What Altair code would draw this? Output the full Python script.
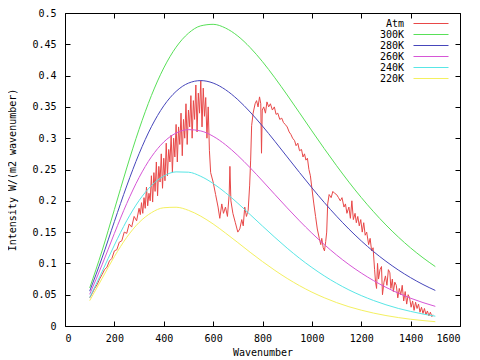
import altair as alt
import pandas as pd

FONT = "DejaVu Sans Mono"

series_names = ["Atm", "300K", "280K", "260K", "240K", "220K"]
series_colors = ["#e84848", "#58e058", "#4646bb", "#d656d6", "#58e6e6", "#f4f060"]

# Blackbody curves, every 50 wavenumbers from 100 to 1500
nu_planck = list(range(100, 1501, 50))
t300 = [0.0608, 0.1199, 0.1860, 0.2524, 0.3142, 0.3681, 0.4122, 0.4454, 0.4677, 0.4795,
        0.4819, 0.4760, 0.4632, 0.4448, 0.4222, 0.3965, 0.3690, 0.3405, 0.3117, 0.2834,
        0.2561, 0.2299, 0.2053, 0.1825, 0.1614, 0.1422, 0.1247, 0.1090, 0.0949]
t280 = [0.0557, 0.1087, 0.1668, 0.2237, 0.2751, 0.3183, 0.3517, 0.3748, 0.3880, 0.3920,
        0.3881, 0.3775, 0.3616, 0.3418, 0.3193, 0.2951, 0.2701, 0.2452, 0.2208, 0.1974,
        0.1754, 0.1549, 0.1360, 0.1188, 0.1034, 0.0895, 0.0772, 0.0663, 0.0568]
t260 = [0.0506, 0.0976, 0.1479, 0.1956, 0.2371, 0.2702, 0.2939, 0.3082, 0.3137, 0.3116,
        0.3031, 0.2896, 0.2724, 0.2528, 0.2317, 0.2101, 0.1887, 0.1680, 0.1484, 0.1302,
        0.1134, 0.0982, 0.0846, 0.0725, 0.0618, 0.0525, 0.0444, 0.0374, 0.0314]
t240 = [0.0456, 0.0866, 0.1292, 0.1682, 0.2004, 0.2243, 0.2395, 0.2462, 0.2457, 0.2391,
        0.2277, 0.2130, 0.1961, 0.1780, 0.1596, 0.1416, 0.1243, 0.1082, 0.0935, 0.0801,
        0.0682, 0.0577, 0.0486, 0.0407, 0.0339, 0.0281, 0.0233, 0.0191, 0.0157]
t220 = [0.0405, 0.0758, 0.1109, 0.1416, 0.1653, 0.1810, 0.1889, 0.1897, 0.1848, 0.1754,
        0.1630, 0.1485, 0.1333, 0.1178, 0.1029, 0.0889, 0.0760, 0.0644, 0.0541, 0.0452,
        0.0374, 0.0308, 0.0253, 0.0206, 0.0167, 0.0135, 0.0108, 0.0087, 0.0069]

nu_atm = [100, 110, 120, 130, 140, 150, 160, 170, 180, 190, 200, 210, 220, 230, 240, 250,
          260, 270, 280, 290, 300, 305, 310, 315, 320, 325, 330, 335, 340, 345, 350, 355,
          360, 365, 370, 375, 380, 385, 390, 395, 400, 405, 410, 415, 420, 425, 430, 435,
          440, 445, 450, 455, 460, 465, 470, 475, 480, 485, 490, 495, 500, 505, 510, 515,
          520, 525, 530, 535, 540, 545, 550, 555, 560, 565, 570, 575, 580, 585, 590, 600,
          610, 620, 627, 635, 642, 650, 658, 665, 668, 672, 680, 690, 700, 708, 716, 722,
          728, 735, 742, 748, 752, 756, 762, 770, 776, 782, 788, 793, 796, 799, 805, 812,
          818, 825, 832, 840, 848, 855, 862, 870, 878, 885, 892, 900, 908, 915, 922, 930,
          936, 943, 950, 958, 964, 970, 976, 982, 988, 994, 1000, 1008, 1015, 1022, 1030,
          1036, 1040, 1046, 1051, 1056, 1060, 1064, 1070, 1078, 1085, 1092, 1100, 1108,
          1115, 1122, 1130, 1136, 1142, 1150, 1156, 1162, 1168, 1175, 1180, 1186, 1192,
          1198, 1204, 1210, 1216, 1222, 1230, 1236, 1242, 1248, 1254, 1258, 1262, 1266,
          1270, 1276, 1282, 1286, 1292, 1298, 1304, 1310, 1316, 1320, 1326, 1330, 1336,
          1342, 1348, 1354, 1360, 1366, 1372, 1378, 1384, 1390, 1396, 1402, 1408, 1414,
          1420, 1426, 1432, 1438, 1444, 1450, 1456, 1462, 1468, 1474, 1480, 1486, 1490]
val_atm = [0.045, 0.052, 0.060, 0.066, 0.075, 0.082, 0.090, 0.094, 0.104, 0.108, 0.120,
           0.122, 0.134, 0.136, 0.150, 0.148, 0.163, 0.158, 0.175, 0.168, 0.188, 0.178,
           0.197, 0.180, 0.205, 0.188, 0.222, 0.192, 0.212, 0.200, 0.240, 0.198, 0.245,
           0.215, 0.262, 0.208, 0.255, 0.230, 0.275, 0.220, 0.268, 0.232, 0.292, 0.240,
           0.282, 0.262, 0.305, 0.245, 0.300, 0.270, 0.322, 0.262, 0.318, 0.290, 0.340,
           0.272, 0.330, 0.300, 0.355, 0.290, 0.345, 0.318, 0.368, 0.300, 0.360, 0.330,
           0.385, 0.310, 0.372, 0.340, 0.392, 0.318, 0.380, 0.335, 0.365, 0.300, 0.350,
           0.280, 0.245, 0.230, 0.210, 0.190, 0.172, 0.195, 0.180, 0.190, 0.175, 0.210,
           0.255, 0.200, 0.180, 0.165, 0.150, 0.155, 0.170, 0.160, 0.190, 0.175, 0.185,
           0.225, 0.265, 0.320, 0.340, 0.355, 0.360, 0.350, 0.366, 0.355, 0.276, 0.345,
           0.350, 0.340, 0.358, 0.350, 0.355, 0.345, 0.350, 0.338, 0.340, 0.330, 0.332,
           0.325, 0.322, 0.318, 0.310, 0.306, 0.300, 0.296, 0.288, 0.292, 0.280, 0.282,
           0.270, 0.275, 0.265, 0.268, 0.250, 0.240, 0.220, 0.195, 0.175, 0.155, 0.140,
           0.130, 0.140, 0.125, 0.120, 0.135, 0.150, 0.195, 0.210, 0.205, 0.215, 0.212,
           0.210, 0.205, 0.200, 0.205, 0.190, 0.195, 0.180, 0.190, 0.172, 0.200, 0.170,
           0.180, 0.165, 0.175, 0.160, 0.170, 0.150, 0.165, 0.145, 0.150, 0.130, 0.140,
           0.120, 0.125, 0.090, 0.070, 0.060, 0.100, 0.075, 0.090, 0.095, 0.050, 0.070,
           0.080, 0.065, 0.090, 0.085, 0.060, 0.075, 0.055, 0.070, 0.065, 0.045, 0.060,
           0.050, 0.065, 0.040, 0.055, 0.035, 0.050, 0.045, 0.030, 0.040, 0.025, 0.038,
           0.028, 0.035, 0.022, 0.030, 0.020, 0.028, 0.018, 0.024, 0.016, 0.022, 0.015,
           0.018]

x_ticks = list(range(0, 1601, 200))
y_ticks = [0, 0.05, 0.1, 0.15, 0.2, 0.25, 0.3, 0.35, 0.4, 0.45, 0.5]

atm_df = pd.DataFrame({"nu": nu_atm, "value": val_atm, "series": "Atm"})
planck_frames = []
for name, vals in zip(series_names[1:], [t300, t280, t260, t240, t220]):
    planck_frames.append(pd.DataFrame({"nu": nu_planck, "value": vals, "series": name}))
planck_df = pd.concat(planck_frames, ignore_index=True)

x_scale = alt.Scale(domain=[0, 1600], nice=False, zero=False)
y_scale = alt.Scale(domain=[0, 0.5], nice=False)
color_scale = alt.Scale(domain=series_names, range=series_colors)

# key drawn gnuplot-style: right-aligned text, line sample to its right
legend = alt.Legend(
    orient="none", legendX=328, legendY=5, title=None,
    symbolType="M3,0H10", symbolSize=100, symbolStrokeWidth=1,
    labelAlign="right", labelOffset=0, labelFont=FONT, labelFontSize=10,
    labelColor="black", padding=0, rowPadding=0, labelLimit=100,
)

axis_common = dict(domain=False, grid=False, tickSize=5, offset=-5, tickColor="black",
                   labelFont=FONT, labelFontSize=10, labelColor="black")

atm = alt.Chart(atm_df).mark_line(strokeWidth=1).encode(
    x=alt.X("nu:Q", scale=x_scale, axis=alt.Axis(
        orient="bottom", values=x_ticks, format="d", labelPadding=7,
        title="Wavenumber", titleFont=FONT, titleFontSize=10, titleFontWeight="normal",
        titleColor="black", titleY=31, titleBaseline="middle", **axis_common)),
    y=alt.Y("value:Q", scale=y_scale, axis=alt.Axis(
        orient="left", values=y_ticks,
        labelExpr="datum.value == 0 ? '0' : format(datum.value, '.2~f')", labelPadding=9,
        title="Intensity W/(m2 wavenumber)", titleFont=FONT, titleFontSize=10,
        titleFontWeight="normal", titleColor="black", titleX=-58, titleY=156.5,
        titleAlign="center", titleBaseline="middle", **axis_common)),
    color=alt.Color("series:N", scale=color_scale, legend=legend),
)

planck = alt.Chart(planck_df).mark_line(strokeWidth=1, interpolate="monotone").encode(
    x=alt.X("nu:Q", scale=x_scale, axis=alt.Axis(
        orient="top", values=x_ticks, labels=False, title=None, **axis_common)),
    y=alt.Y("value:Q", scale=y_scale, axis=alt.Axis(
        orient="right", values=y_ticks, labels=False, title=None, **axis_common)),
    color=alt.Color("series:N", scale=color_scale, legend=legend),
)

chart = alt.layer(atm, planck).resolve_axis(
    x="independent", y="independent"
).properties(
    width=395, height=313,
    padding={"left": 57, "top": 5, "right": 12, "bottom": 40},
    autosize=alt.AutoSizeParams(type="none"),
    background="white",
).configure_view(stroke="black", strokeWidth=1)

chart.save("out.html", embed_options={"renderer": "svg", "actions": False})
